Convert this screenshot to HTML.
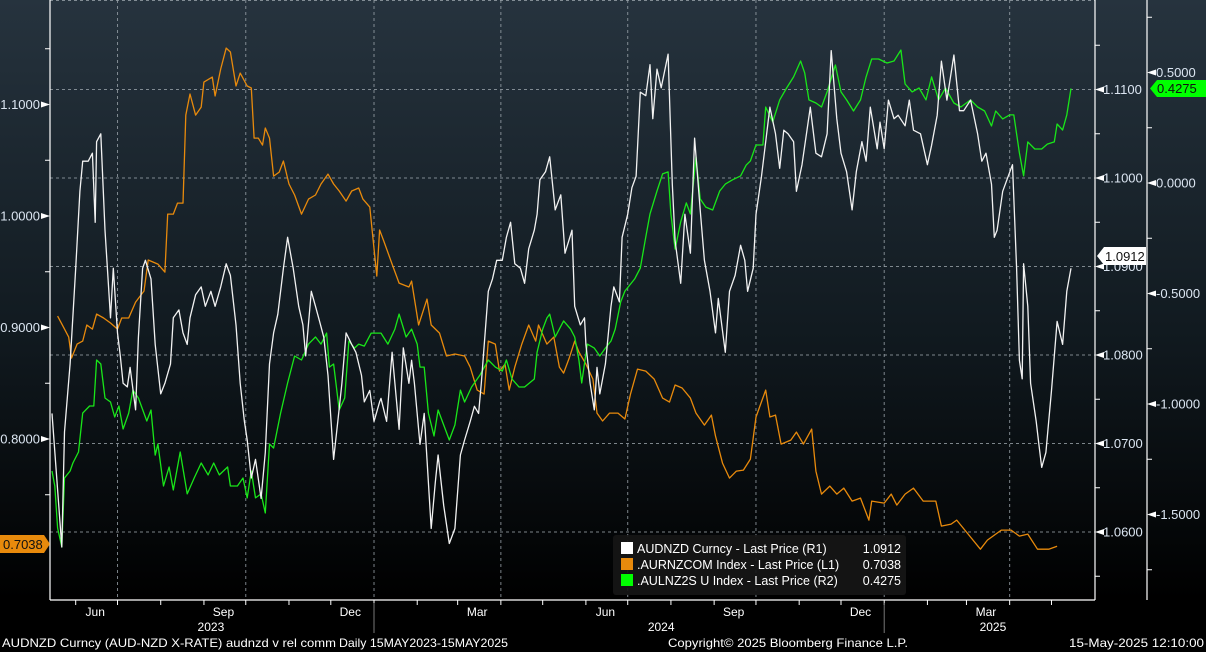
<!DOCTYPE html>
<html><head><meta charset="utf-8"><style>
html,body{margin:0;padding:0;background:#000;width:1206px;height:652px;overflow:hidden}
svg{display:block}
text{font-family:"Liberation Sans",sans-serif}
</style></head><body>
<svg id="chart" width="1206" height="652" viewBox="0 0 1206 652" xmlns="http://www.w3.org/2000/svg">
<defs>
<linearGradient id="bg" x1="0" y1="0" x2="0" y2="1">
<stop offset="0" stop-color="#26333e"/><stop offset="0.55" stop-color="#111a20"/><stop offset="1" stop-color="#000"/>
</linearGradient>
</defs>
<rect x="0" y="0" width="1206" height="600" fill="url(#bg)"/>
<g id="grid"></g>
<g id="axes"></g>
<g id="series"></g>
<g>
<rect x="613" y="535" width="293" height="60" rx="3" fill="#161616" opacity="0.92"/>
<g><rect x="621" y="542" width="12" height="12" fill="#fff"/><text x="637" y="553" fill="#fff" font-size="12.5">AUDNZD Curncy - Last Price (R1)</text><text x="901" y="553" fill="#fff" font-size="12.5" text-anchor="end">1.0912</text></g>
<g><rect x="621" y="558" width="12" height="12" fill="#e88a0c"/><text x="637" y="569" fill="#fff" font-size="12.5">.AURNZCOM Index - Last Price (L1)</text><text x="901" y="569" fill="#fff" font-size="12.5" text-anchor="end">0.7038</text></g>
<g><rect x="621" y="574" width="12" height="12" fill="#0f0"/><text x="637" y="585" fill="#fff" font-size="12.5">.AULNZ2S U Index - Last Price (R2)</text><text x="901" y="585" fill="#fff" font-size="12.5" text-anchor="end">0.4275</text></g>
</g>
<g id="tags">
<polygon points="0,535 44,535 50,544 44,553 0,553" fill="#e88a0c"/>
<text x="3" y="549" font-size="13" fill="#111">0.7038</text>
<polygon points="1097,256 1104,247 1146,247 1146,265 1104,265" fill="#fff"/>
<text x="1105" y="261" font-size="13" fill="#111">1.0912</text>
<polygon points="1150,88.5 1157,80 1206,80 1206,97 1157,97" fill="#0f0"/>
<text x="1157" y="93" font-size="13" fill="#111">0.4275</text>
</g>
<g font-size="12" fill="#fff">
<text x="2" y="647" textLength="334" lengthAdjust="spacingAndGlyphs">AUDNZD Curncy (AUD-NZD X-RATE) audnzd v rel comm</text>
<text x="339" y="647" textLength="169" lengthAdjust="spacingAndGlyphs">Daily 15MAY2023-15MAY2025</text>
<text x="668" y="647" textLength="240" lengthAdjust="spacingAndGlyphs">Copyright© 2025 Bloomberg Finance L.P.</text>
<text x="1069" y="647" textLength="135" lengthAdjust="spacingAndGlyphs">15-May-2025 12:10:00</text>
</g>
</svg>
<script>
// day index: 0 = 15 May 2023, 731 = 15 May 2025
const whiteDays=[0,7,9,13,17,20,22,26,29,31,32,35,38,42,44,47,49,51,54,56,60,62,65,67,71,74,78,81,85,87,91,94,97,99,103,107,110,114,117,121,125,128,132,135,138,140,143,146,150,153,156,159,162,166,169,173,177,180,182,186,189,192,195,198,202,205,208,211,215,218,222,224,228,231,235,236,240,244,246,249,252,256,258,260,264,267,269,272,275,277,281,285,289,293,296,300,303,306,308,313,316,319,323,326,329,332,336,339,342,346,348,350,354,357,361,365,368,373,375,379,382,383,386,389,391,393,397,401,403,407,409,413,416,419,422,426,429,431,434,437,442,445,447,451,454,458,461,465,468,472,476,478,483,486,490,494,497,499,503,505,509,515,519,522,525,528,532,534,538,544,548,552,556,559,563,566,570,574,577,581,584,587,592,594,597,600,604,607,612,615,618,623,628,631,635,638,642,647,651,654,659,664,667,670,674,676,678,682,685,689,692,694,696,697,700,702,706,708,710,713,717,721,725,728,731];
const whiteVals=[1.0734,1.0583,1.0713,1.0790,1.0898,1.0985,1.1019,1.1019,1.1028,1.0950,1.1041,1.1050,1.0941,1.0842,1.0898,1.0825,1.0799,1.0768,1.0764,1.0786,1.0738,1.0820,1.0898,1.0907,1.0886,1.0812,1.0756,1.0768,1.0790,1.0842,1.0851,1.0825,1.0812,1.0842,1.0868,1.0877,1.0855,1.0872,1.0855,1.0877,1.0903,1.0890,1.0834,1.0768,1.0725,1.0704,1.0661,1.0682,1.0638,1.0690,1.0790,1.0825,1.0846,1.0898,1.0933,1.0898,1.0855,1.0834,1.0799,1.0872,1.0855,1.0838,1.0820,1.0777,1.0682,1.0725,1.0768,1.0825,1.0812,1.0803,1.0777,1.0747,1.0760,1.0725,1.0747,1.0751,1.0725,1.0803,1.0768,1.0716,1.0808,1.0768,1.0794,1.0768,1.0699,1.0734,1.0682,1.0604,1.0656,1.0687,1.0630,1.0587,1.0604,1.0687,1.0704,1.0725,1.0742,1.0734,1.0768,1.0872,1.0886,1.0907,1.0907,1.0933,1.0950,1.0903,1.0898,1.0881,1.0920,1.0941,1.0959,1.0998,1.1007,1.1024,1.0964,1.0981,1.0915,1.0941,1.0855,1.0834,1.0842,1.0812,1.0768,1.0738,1.0786,1.0756,1.0790,1.0855,1.0877,1.0860,1.0933,1.0959,1.0989,1.1002,1.1097,1.1093,1.1128,1.1067,1.1123,1.1102,1.1140,1.0993,1.0929,1.0881,1.0959,1.0915,1.1045,1.0964,1.0907,1.0872,1.0825,1.0864,1.0803,1.0872,1.0890,1.0924,1.0907,1.0872,1.0898,1.0959,1.1002,1.1080,1.1050,1.1011,1.1054,1.1050,1.1041,1.0985,1.1015,1.1080,1.1028,1.1024,1.1050,1.1144,1.1067,1.1028,1.1007,1.0964,1.1007,1.1041,1.1019,1.1080,1.1033,1.1063,1.1033,1.1088,1.1067,1.1071,1.1059,1.1088,1.1054,1.1050,1.1015,1.1037,1.1071,1.1132,1.1088,1.1139,1.1076,1.1076,1.1088,1.1050,1.1019,1.1028,1.0993,1.0933,1.0941,1.0985,1.0998,1.1015,1.0898,1.0794,1.0773,1.0903,1.0855,1.0768,1.0725,1.0699,1.0673,1.0690,1.0760,1.0838,1.0812,1.0872,1.0898,1.0912];
const orangeDays=[4,9,12,14,18,22,25,29,32,37,42,47,50,55,60,66,69,76,81,83,87,90,94,96,99,103,107,109,115,117,121,125,128,132,135,140,143,145,148,151,153,156,159,163,166,170,174,179,184,189,193,198,202,206,211,215,220,223,228,233,235,238,244,249,256,258,263,269,272,278,283,289,296,300,305,310,313,318,321,325,328,332,337,342,347,349,355,360,364,367,371,375,378,383,388,391,395,400,406,411,415,420,426,432,438,443,447,452,458,462,468,473,476,481,486,491,496,501,505,512,515,519,523,530,534,539,545,548,552,558,563,568,574,580,586,588,597,602,606,612,618,625,634,638,645,649,656,666,671,681,688,694,700,707,715,721];
const orangeVals=[0.9102,0.8986,0.8914,0.8726,0.8851,0.8878,0.9022,0.8986,0.9120,0.9085,0.9040,0.8986,0.9085,0.9085,0.9228,0.9327,0.9605,0.9569,0.9497,1.0017,1.0017,1.0116,1.0116,1.0905,1.1094,1.0905,1.0977,1.1201,1.1246,1.1076,1.1318,1.1506,1.1471,1.1166,1.1282,1.1166,1.1148,1.0699,1.0699,1.0636,1.0789,1.0699,1.0358,1.0394,1.0493,1.0287,1.0188,1.0017,1.0152,1.0188,1.0287,1.0376,1.0287,1.0224,1.0134,1.0224,1.0251,1.0152,1.0080,0.9461,0.9874,0.9775,0.9569,0.9398,0.9363,0.9416,0.9022,0.9255,0.9022,0.8950,0.8744,0.8762,0.8744,0.8645,0.8439,0.8403,0.8878,0.8851,0.8609,0.8672,0.8439,0.8645,0.8851,0.9022,0.8878,0.9022,0.8851,0.8914,0.8645,0.8591,0.8726,0.8878,0.8780,0.8672,0.8537,0.8232,0.8161,0.8232,0.8232,0.8179,0.8403,0.8627,0.8609,0.8537,0.8367,0.8331,0.8484,0.8457,0.8367,0.8232,0.8125,0.8214,0.8026,0.7784,0.7649,0.7712,0.7721,0.7820,0.8197,0.8439,0.8197,0.8214,0.7954,0.7990,0.8062,0.7954,0.8089,0.7712,0.7506,0.7578,0.7506,0.7560,0.7443,0.7470,0.7273,0.7443,0.7425,0.7506,0.7407,0.7506,0.7560,0.7443,0.7443,0.7219,0.7237,0.7273,0.7165,0.7012,0.7093,0.7183,0.7183,0.7129,0.7147,0.7012,0.7012,0.7038];
const greenDays=[0,2,4,7,9,13,15,19,22,27,30,32,35,38,42,45,48,51,55,58,62,68,71,74,76,80,84,87,92,97,102,107,112,116,120,126,128,133,137,140,143,146,150,153,156,159,164,169,174,179,184,189,193,197,199,202,206,210,213,217,220,224,229,236,241,246,249,254,258,262,264,267,270,274,277,281,285,289,293,296,301,307,313,318,323,326,330,335,339,346,348,352,355,357,361,367,372,375,378,380,384,389,393,397,401,404,408,411,418,422,426,429,434,438,442,444,447,451,455,458,462,465,469,474,479,483,488,494,498,501,505,510,512,517,522,527,532,537,540,543,548,552,556,562,566,570,575,580,584,588,593,599,604,609,612,617,622,627,631,636,641,647,652,659,664,669,674,677,682,687,690,694,697,700,705,710,714,719,721,725,728,731];
const greenVals=[-1.303,-1.371,-1.561,-1.647,-1.335,-1.303,-1.267,-1.217,-1.041,-1.009,-1.009,-0.801,-0.819,-0.973,-0.991,-1.059,-1.009,-1.113,-1.041,-0.937,-0.973,-1.077,-1.027,-1.231,-1.181,-1.371,-1.285,-1.389,-1.217,-1.407,-1.335,-1.267,-1.321,-1.267,-1.321,-1.285,-1.371,-1.371,-1.335,-1.425,-1.303,-1.425,-1.407,-1.493,-1.181,-1.199,-1.041,-0.905,-0.783,-0.801,-0.729,-0.697,-0.729,-0.679,-0.833,-0.819,-1.027,-0.973,-0.715,-0.747,-0.729,-0.738,-0.679,-0.679,-0.729,-0.661,-0.593,-0.697,-0.661,-0.729,-0.833,-0.833,-1.041,-1.145,-1.027,-1.095,-1.163,-1.095,-0.937,-0.991,-0.923,-0.869,-0.801,-0.833,-0.851,-0.801,-0.887,-0.923,-0.923,-0.887,-0.765,-0.661,-0.611,-0.593,-0.697,-0.624,-0.661,-0.697,-0.801,-0.905,-0.729,-0.747,-0.783,-0.747,-0.715,-0.661,-0.538,-0.489,-0.434,-0.385,-0.244,-0.140,-0.036,0.041,0.050,-0.140,-0.299,-0.176,-0.090,-0.140,0.118,-0.072,-0.109,-0.122,-0.036,-0.005,0.014,0.032,0.081,0.100,0.172,0.172,0.344,0.276,0.376,0.430,0.480,0.552,0.498,0.376,0.362,0.344,0.412,0.534,0.412,0.376,0.326,0.376,0.480,0.561,0.561,0.543,0.552,0.602,0.448,0.412,0.430,0.376,0.480,0.376,0.430,0.362,0.344,0.376,0.344,0.326,0.258,0.326,0.290,0.308,0.308,0.136,0.032,0.186,0.154,0.154,0.176,0.186,0.267,0.240,0.308,0.4275];
const l1Ticks=[1.1,1.0,0.9,0.8];
const l1TickLabels=["1.1000","1.0000","0.9000","0.8000"];
const r1Ticks=[1.11,1.10,1.09,1.08,1.07,1.06];
const r1TickLabels=["1.1100","1.1000","1.0900","1.0800","1.0700","1.0600"];
const r2Ticks=[0.5,0,-0.5,-1.0,-1.5];
const r2TickLabels=["0.5000","0.0000","-0.5000","-1.0000","-1.5000"];
const monthLabels=["Jun","Sep","Dec","Mar","Jun","Sep","Dec","Mar"];
const monthLabelDays=[31,123,214,305,397,489,580,670];
const quarterDays=[47,139,231,322,413,505,597,687];
const monthStartDays=[17,47,78,109,139,170,200,231,262,291,322,352,383,413,444,475,505,536,566,597,628,656,687,717];
const yearLabels=["2023","2024","2025"];
const yearLabelDays=[114,437,675];
const yearStartDays=[231,597];

const NS="http://www.w3.org/2000/svg";
const X0=52,X1=1071,PL=50,PR=1095;
function xS(d){return X0+(d/731)*(X1-X0);}
function yL1(v){return 216-(v-1)*1115;}
function yR1(v){return 178-(v-1.10)*8850;}
function yR2(v){return 183-v*221;}
function mk(tag,attrs,parent){const e=document.createElementNS(NS,tag);for(const k in attrs)e.setAttribute(k,attrs[k]);parent.appendChild(e);return e;}
const gridG=document.getElementById('grid'),axesG=document.getElementById('axes'),seriesG=document.getElementById('series');
const gridStyle={stroke:"#9aa3aa","stroke-width":1,"stroke-dasharray":"3,3",opacity:0.8};
const gridTop=mk('line',Object.assign({x1:PL,x2:PR,y1:0.5,y2:0.5},gridStyle),gridG);


r1Ticks.forEach(v=>{const l=mk('line',Object.assign({x1:PL,x2:PR,y1:yR1(v),y2:yR1(v)},gridStyle),gridG);

});
quarterDays.forEach(d=>{const l=mk('line',Object.assign({x1:xS(d),x2:xS(d),y1:0,y2:600},gridStyle),gridG);

});
[[PL,0,PL,600],[PR,0,PR,600],[1147,0,1147,600],[PL,600,PR,600]].forEach(a=>{const l=mk('line',{x1:a[0],y1:a[1],x2:a[2],y2:a[3],stroke:"#fff","stroke-width":1.2},axesG);

});
const lblFill="#dce6f2";
function yTicks(ticks,labels,scale,ax,lx,anchor,minorStep,dir,name){
  ticks.forEach((v,i)=>{const y=scale(v);
    const p=mk('polygon',{points:dir>0?`${ax},${y} ${ax+9},${y-3} ${ax+9},${y+3}`:`${ax},${y} ${ax-9},${y-3} ${ax-9},${y+3}`,fill:"#fff"},axesG);
    
    
    const t=mk('text',{x:lx,y:y+4.5,"font-size":13,fill:lblFill,"text-anchor":anchor},axesG);t.textContent=labels[i];
    
    
    const m=scale(v+minorStep/2);
    const ml=mk('line',{x1:ax,x2:ax+dir*5,y1:m,y2:m,stroke:"#fff"},axesG);
    
    
  });
  const m2=scale(ticks[ticks.length-1]-minorStep/2);
  const ml=mk('line',{x1:ax,x2:ax+dir*5,y1:m2,y2:m2,stroke:"#fff"},axesG);
  
  
}
yTicks(l1Ticks,l1TickLabels,yL1,PL,40,"end",0.1,-1,'l1-axis');
yTicks(r1Ticks,r1TickLabels,yR1,PR,1103,"start",0.01,1,'r1-axis');
yTicks(r2Ticks,r2TickLabels,yR2,1147,1156,"start",0.5,1,'r2-axis');
monthStartDays.forEach(d=>{const l=mk('line',{x1:xS(d),x2:xS(d),y1:600,y2:605,stroke:"#fff"},axesG);

});
yearStartDays.forEach(d=>{const l=mk('line',{x1:xS(d),x2:xS(d),y1:603,y2:633,stroke:"#777"},axesG);

});
monthLabels.forEach((m,i)=>{const t=mk('text',{x:xS(monthLabelDays[i]),y:616,"font-size":12,fill:"#fff","text-anchor":"middle"},axesG);t.textContent=m;

});
yearLabels.forEach((m,i)=>{const t=mk('text',{x:xS(yearLabelDays[i]),y:631,"font-size":12,fill:"#fff","text-anchor":"middle"},axesG);t.textContent=m;

});
function drawLine(days,vals,scale,color,name){
  const n=Math.min(days.length,vals.length);
  let d='';
  for(let i=0;i<n;i++){d+=(i?'L':'M')+xS(days[i]).toFixed(1)+','+scale(vals[i]).toFixed(1);}
  const p=mk('path',{d:d,fill:"none",stroke:color,"stroke-width":1.3,"stroke-linejoin":"round"},seriesG);
  
  
}
drawLine(orangeDays,orangeVals,yL1,"#e88a0c",'aurnzcom-line');
drawLine(greenDays,greenVals,yR2,"#19e619",'aulnz2s-line');
drawLine(whiteDays,whiteVals,yR1,"#f2f2f2",'audnzd-line');
</script>
</body></html>
